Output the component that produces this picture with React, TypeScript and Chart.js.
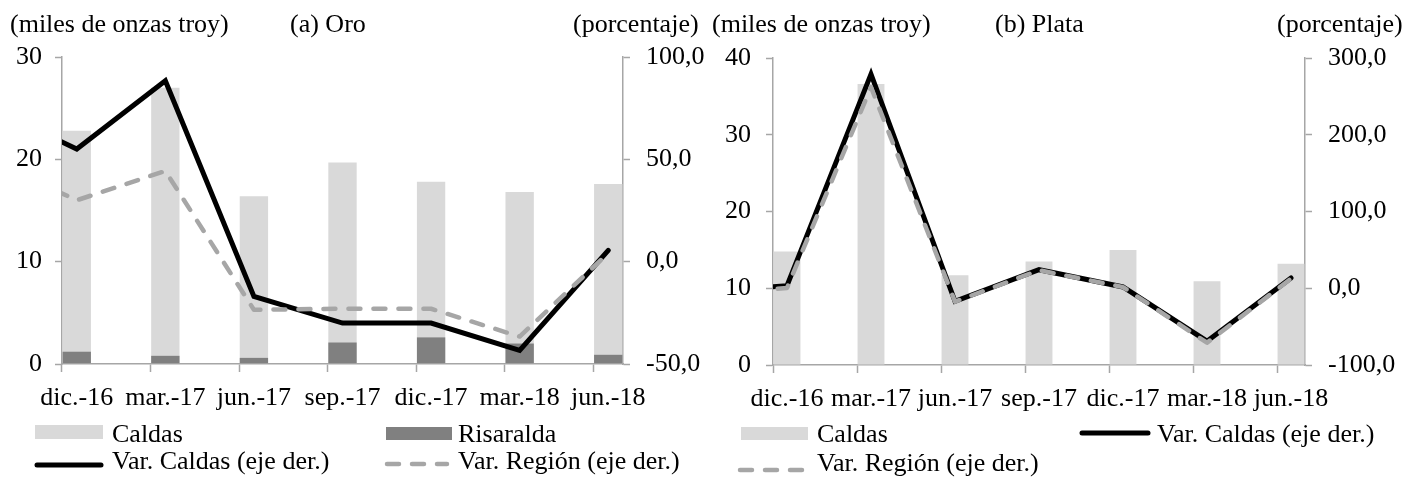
import React, { useEffect, useRef } from 'react';
import { Chart, registerables } from 'chart.js';

Chart.register(...registerables);

// ---------- data ----------
const quarterLabels = ['dic.-16', 'mar.-17', 'jun.-17', 'sep.-17', 'dic.-17', 'mar.-18', 'jun.-18'];
const prevQuarter = 'sep.-16'; // quarter before the visible range (line enters from the left edge)

const oroCaldas = [22.8, 27.0, 16.4, 19.7, 17.8, 16.8, 17.6];
const oroRisaralda = [1.2, 0.8, 0.6, 2.1, 2.6, 2.0, 0.9];
const oroVarCaldas = [55.0, 88.4, -17.0, -30.0, -30.0, -43.4, 5.5];
const oroVarRegion = [30.0, 44.3, -23.5, -23.0, -23.0, -36.6, 4.2];
const oroVarCaldasPrev = 76.0;
const oroVarRegionPrev = 50.0;
const oroLeftTicks = [0, 10, 20, 30];
const oroRightTicks = [-50, 0, 50, 100];

const plataCaldas = [14.8, 36.6, 11.7, 13.5, 15.0, 10.9, 13.2];
const plataVarCaldas = [3.4, 279.0, -17.0, 24.2, 1.7, -69.0, 13.4];
const plataVarRegion = [0.4, 262.0, -17.5, 23.5, 1.5, -71.0, 12.5];
const plataVarCaldasPrev = -5.0;
const plataVarRegionPrev = -10.0;
const plataLeftTicks = [0, 10, 20, 30, 40];
const plataRightTicks = [-100, 0, 100, 200, 300];

// monthly slots (date-axis style: one slot per month, a labelled tick every quarter)
const slotLabels: string[] = [prevQuarter, '', ''];
quarterLabels.forEach((q, i) => {
  slotLabels.push(q);
  if (i < quarterLabels.length - 1) slotLabels.push('', '');
});

// ---------- style ----------
const FONT = '"Times New Roman", "Liberation Serif", serif';
const AXIS = '#a6a6a6';
const LIGHT = '#d9d9d9';
const DARK = '#808080';
const REGION = '#a6a6a6';

function points(prev: number | null, values: number[]) {
  const pts: { x: string; y: number }[] = [];
  if (prev !== null) pts.push({ x: prevQuarter, y: prev });
  values.forEach((v, i) => pts.push({ x: quarterLabels[i], y: v }));
  return pts;
}

const fmtPct = (v: number) => v.toFixed(1).replace('.', ',');

type Spec = {
  width: number;
  leftW: number;
  rightW: number;
  top: number;
  bottom: number;
  leftPad: number;
  rightPad: number;
  leftTicks: number[];
  rightTicks: number[];
  bars: { label: string; data: number[]; color: string; order: number }[];
  varCaldas: number[];
  varCaldasPrev: number;
  varRegion: number[];
  varRegionPrev: number;
};

function buildConfig(s: Spec): any {
  const lineClip = { left: 0, top: false, right: false, bottom: false };
  const datasets: any[] = s.bars.map((b) => ({
    type: 'bar',
    label: b.label,
    data: points(null, b.data),
    backgroundColor: b.color,
    borderWidth: 0,
    yAxisID: 'y',
    grouped: false,
    categoryPercentage: 1,
    barPercentage: 0.96,
    order: b.order,
  }));
  datasets.push({
    type: 'line',
    label: 'Var. Caldas (eje der.)',
    data: points(s.varCaldasPrev, s.varCaldas),
    yAxisID: 'y1',
    borderColor: '#000000',
    borderWidth: 5,
    pointRadius: 0,
    tension: 0,
    borderCapStyle: 'round',
    borderJoinStyle: 'miter',
    clip: lineClip,
    order: 1,
  });
  datasets.push({
    type: 'line',
    label: 'Var. Región (eje der.)',
    data: points(s.varRegionPrev, s.varRegion),
    yAxisID: 'y1',
    borderColor: REGION,
    borderWidth: 4.5,
    borderDash: [12, 13],
    pointRadius: 0,
    tension: 0,
    borderCapStyle: 'round',
    borderJoinStyle: 'round',
    clip: lineClip,
    order: 0,
  });

  const tickFont = { family: FONT, size: 26 };
  return {
    type: 'bar',
    data: { labels: slotLabels, datasets },
    options: {
      animation: false,
      responsive: false,
      events: [],
      layout: { padding: { top: s.top, bottom: s.bottom, left: 0, right: 0 } },
      plugins: { legend: { display: false }, tooltip: { enabled: false }, title: { display: false } },
      scales: {
        x: {
          type: 'category',
          min: quarterLabels[0],
          offset: true,
          grid: {
            offset: true,
            drawOnChartArea: false,
            drawTicks: true,
            tickLength: 8,
            tickWidth: 1.5,
            tickColor: (ctx: any) => (ctx.index % 3 === 0 ? AXIS : 'rgba(0,0,0,0)'),
          },
          border: { display: true, color: AXIS, width: 1.5 },
          ticks: { autoSkip: false, maxRotation: 0, minRotation: 0, padding: 11, color: '#000', font: tickFont },
          afterFit: (sc: any) => {
            sc.height = 60;
          },
        },
        y: {
          position: 'left',
          min: s.leftTicks[0],
          max: s.leftTicks[s.leftTicks.length - 1],
          afterBuildTicks: (sc: any) => {
            sc.ticks = s.leftTicks.map((value) => ({ value }));
          },
          grid: { drawOnChartArea: false, drawTicks: true, tickLength: 7, tickWidth: 1.5, tickColor: AXIS },
          border: { display: true, color: AXIS, width: 1.5 },
          ticks: { padding: s.leftPad, color: '#000', font: tickFont, callback: (v: any) => String(v) },
          afterFit: (sc: any) => {
            sc.width = s.leftW;
          },
        },
        y1: {
          position: 'right',
          min: s.rightTicks[0],
          max: s.rightTicks[s.rightTicks.length - 1],
          afterBuildTicks: (sc: any) => {
            sc.ticks = s.rightTicks.map((value) => ({ value }));
          },
          grid: { drawOnChartArea: false, drawTicks: true, tickLength: 7, tickWidth: 1.5, tickColor: AXIS },
          border: { display: true, color: AXIS, width: 1.5 },
          ticks: { padding: s.rightPad, color: '#000', font: tickFont, callback: (v: any) => fmtPct(Number(v)) },
          afterFit: (sc: any) => {
            sc.width = s.rightW;
          },
        },
      },
    },
  };
}

function ChartPanel({ left, spec }: { left: number; spec: Spec }) {
  const ref = useRef<HTMLCanvasElement | null>(null);
  useEffect(() => {
    if (!ref.current) return;
    const chart = new Chart(ref.current, buildConfig(spec));
    return () => chart.destroy();
  }, []);
  return (
    <canvas
      ref={ref}
      width={spec.width}
      height={481}
      style={{ position: 'absolute', left, top: 0, width: spec.width, height: 481 }}
    />
  );
}

const oroSpec: Spec = {
  width: 705,
  leftW: 62,
  rightW: 82,
  top: 57,
  bottom: 57,
  leftPad: 13,
  rightPad: 16,
  leftTicks: oroLeftTicks,
  rightTicks: oroRightTicks,
  bars: [
    { label: 'Caldas', data: oroCaldas, color: LIGHT, order: 3 },
    { label: 'Risaralda', data: oroRisaralda, color: DARK, order: 2 },
  ],
  varCaldas: oroVarCaldas,
  varCaldasPrev: oroVarCaldasPrev,
  varRegion: oroVarRegion,
  varRegionPrev: oroVarRegionPrev,
};

const plataSpec: Spec = {
  width: 717,
  leftW: 68,
  rightW: 117,
  top: 58,
  bottom: 56,
  leftPad: 15,
  rightPad: 16,
  leftTicks: plataLeftTicks,
  rightTicks: plataRightTicks,
  bars: [{ label: 'Caldas', data: plataCaldas, color: LIGHT, order: 3 }],
  varCaldas: plataVarCaldas,
  varCaldasPrev: plataVarCaldasPrev,
  varRegion: plataVarRegion,
  varRegionPrev: plataVarRegionPrev,
};

function Text({ x, y, children }: { x: number; y: number; children: React.ReactNode }) {
  return (
    <div style={{ position: 'absolute', left: x, top: y, lineHeight: '30px', whiteSpace: 'nowrap' }}>{children}</div>
  );
}

function Box({ x, y, w, h, color }: { x: number; y: number; w: number; h: number; color: string }) {
  return <div style={{ position: 'absolute', left: x, top: y, width: w, height: h, background: color }} />;
}

function LineSwatch({ x, y, w, dashed }: { x: number; y: number; w: number; dashed?: boolean }) {
  return (
    <svg style={{ position: 'absolute', left: x - 4, top: y - 5 }} width={w + 8} height={10}>
      <line
        x1={4}
        y1={5}
        x2={w + 4}
        y2={5}
        stroke={dashed ? REGION : '#000'}
        strokeWidth={dashed ? 4.5 : 5}
        strokeLinecap="round"
        strokeDasharray={dashed ? '12 13' : undefined}
      />
    </svg>
  );
}

export default function App() {
  return (
    <div
      style={{
        position: 'absolute',
        left: 0,
        top: 0,
        width: 1422,
        height: 481,
        background: '#fff',
        fontFamily: FONT,
        fontSize: 26,
        color: '#000',
        overflow: 'hidden',
      }}
    >
      <ChartPanel left={0} spec={oroSpec} />
      <ChartPanel left={705} spec={plataSpec} />

      {/* headers */}
      <Text x={10} y={9}>(miles de onzas troy)</Text>
      <Text x={290} y={9}>(a) Oro</Text>
      <Text x={573} y={9}>(porcentaje)</Text>
      <Text x={712} y={9}>(miles de onzas troy)</Text>
      <Text x={995} y={9}>(b) Plata</Text>
      <Text x={1277} y={9}>(porcentaje)</Text>

      {/* legend (a) */}
      <Box x={35} y={425} w={68} h={14} color={LIGHT} />
      <Text x={112} y={419}>Caldas</Text>
      <Box x={386} y={427} w={66} h={13} color={DARK} />
      <Text x={458} y={419}>Risaralda</Text>
      <LineSwatch x={37} y={465} w={64} />
      <Text x={112} y={446}>Var. Caldas (eje der.)</Text>
      <LineSwatch x={387} y={464} w={60} dashed />
      <Text x={458} y={446}>Var. Región (eje der.)</Text>

      {/* legend (b) */}
      <Box x={741} y={427} w={67} h={13} color={LIGHT} />
      <Text x={817} y={419}>Caldas</Text>
      <LineSwatch x={1082} y={433} w={66} />
      <Text x={1157} y={419}>Var. Caldas (eje der.)</Text>
      <LineSwatch x={740} y={470} w={62} dashed />
      <Text x={817} y={448}>Var. Región (eje der.)</Text>
    </div>
  );
}
